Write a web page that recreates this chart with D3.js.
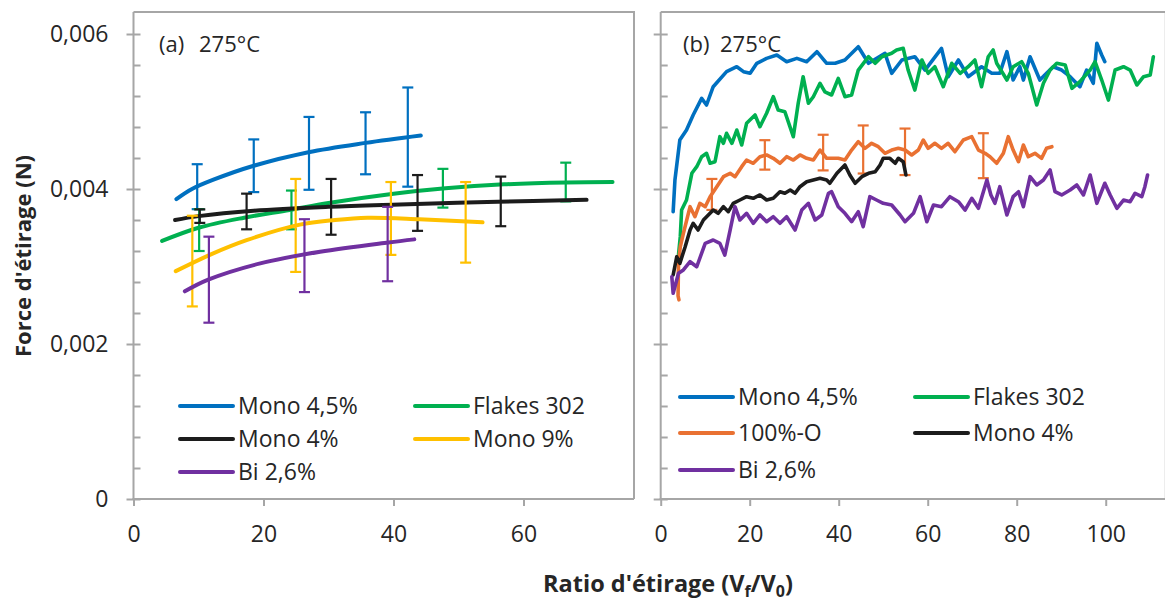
<!DOCTYPE html>
<html>
<head>
<meta charset="utf-8">
<script src="https://cdn.jsdelivr.net/npm/d3@7"></script>
<style>
  body { margin: 0; background: #ffffff; }
  text { font-family: "Open Sans", "DejaVu Sans", sans-serif; fill: #262626; }
</style>
</head>
<body>
<svg id="chart" width="1165" height="603"></svg>
<script>
// ---------------- DATA ----------------
const yTickValues = [0, 0.002, 0.004, 0.006];
const yTickLabels = ["0", "0,002", "0,004", "0,006"];
const yMinorTicks = [0, 0.0004, 0.0008, 0.0012, 0.0016, 0.002, 0.0024, 0.0028, 0.0032, 0.0036, 0.004, 0.0044, 0.0048, 0.0052, 0.0056, 0.006];
const xTicksLeft = [0, 20, 40, 60];
const xTicksRight = [0, 20, 40, 60, 80, 100];

// Panel (a): fitted curves [ratio, force]
const fitMono45 = [[6.6,0.00387],[9,0.00400],[12.3,0.00412],[18.5,0.00430],[26.9,0.004475],[35.7,0.004595],[44.2,0.00469]];
const fitFlakes = [[4.4,0.00333],[10,0.00350],[17,0.00363],[24,0.00373],[30,0.00382],[40,0.00394],[48,0.00401],[57,0.00406],[66.6,0.004085],[73.7,0.00409]];
const fitMono4 = [[6.4,0.00360],[10,0.00365],[18.5,0.00372],[30,0.00377],[41,0.00380],[56,0.003835],[69.7,0.00386]];
const fitMono9 = [[6.5,0.00294],[12,0.00316],[17.4,0.00334],[25.6,0.00354],[31,0.00360],[36,0.00363],[44,0.00361],[53.7,0.00357]];
const fitBi26 = [[7.9,0.00268],[11.5,0.00283],[19.5,0.00304],[28.7,0.00319],[39.2,0.00331],[43.2,0.00335]];

// Panel (a): error bars [ratio, mean force, error]
const errMono45 = [[9.8,0.00403,0.00029],[18.5,0.00430,0.00034],[27,0.00446,0.00047],[35.7,0.00459,0.00040],[42.2,0.00467,0.00064]];
const errFlakes = [[10.1,0.00347,0.00027],[24.3,0.00373,0.00025],[47.6,0.00401,0.00025],[66.5,0.00409,0.00025]];
const errMono4 = [[10.2,0.00365,0.000087],[17.4,0.00371,0.00023],[30.4,0.00377,0.00036],[43.7,0.00382,0.00036],[56.5,0.00384,0.00032]];
const errMono9 = [[9.05,0.00307,0.000585],[24.95,0.00353,0.00060],[39.6,0.00362,0.00047],[51.1,0.00357,0.00052]];
const errBi26 = [[11.6,0.00283,0.000555],[26.3,0.00314,0.00047],[39.1,0.00329,0.00048]];

// Panel (b): measured curves [ratio, force]
const curveMono45 = [[2.8,0.003707],[3.2,0.004116],[4.3,0.004632],[5.8,0.004761],[7.3,0.004955],[9.2,0.00517],[10.3,0.005084],[11.8,0.00532],[14.8,0.005514],[17.1,0.005578],[18.6,0.005514],[20.1,0.005493],[21.6,0.005622],[23.8,0.005686],[26.1,0.005729],[28.3,0.005643],[30.6,0.005686],[32.8,0.005643],[35.1,0.005772],[37.3,0.005622],[39.2,0.005622],[41.4,0.005665],[44.4,0.005836],[46.7,0.005622],[50.4,0.005751],[51.9,0.005493],[54.2,0.005665],[57.1,0.005707],[59.4,0.005535],[63.1,0.005815],[64.6,0.005449],[66.9,0.005665],[69.1,0.005449],[72.1,0.005578],[74.4,0.005493],[76.2,0.005493],[77.8,0.005772],[79.2,0.005406],[80.7,0.005578],[81.5,0.005406],[83,0.005707],[85.2,0.005406],[86.7,0.005493],[88.2,0.005578],[90.1,0.005535],[92,0.005449],[94.2,0.00532],[95.7,0.005535],[97.2,0.005364],[98,0.00588],[99.1,0.005729],[99.8,0.005643]];
const curveFlakes = [[4.0,0.003148],[4.4,0.003385],[4.7,0.003729],[5.8,0.003858],[7.0,0.004203],[8.1,0.004288],[9.2,0.004417],[10.3,0.004461],[11.1,0.004332],[12.2,0.004352],[13.3,0.004675],[14.1,0.00459],[14.8,0.004719],[16.0,0.00459],[17.1,0.004761],[18.2,0.004568],[19.3,0.004848],[21.2,0.004955],[22.3,0.004804],[23.8,0.004977],[25.3,0.005191],[26.4,0.005019],[27.9,0.004997],[29.8,0.004675],[30.9,0.005106],[32.0,0.005449],[33.2,0.005106],[34.3,0.005191],[35.8,0.005364],[36.9,0.005252],[38.4,0.005213],[39.9,0.005428],[41.4,0.005191],[42.9,0.005213],[44.4,0.005535],[46.7,0.005707],[48.2,0.005622],[49.7,0.005707],[51.9,0.005751],[53.0,0.005794],[54.5,0.005815],[55.6,0.005535],[57.1,0.005277],[58.7,0.005665],[60.1,0.005493],[61.6,0.005578],[63.5,0.00532],[65.4,0.005622],[67.3,0.005493],[69.1,0.005578],[70.6,0.005665],[72.1,0.00532],[73.6,0.005707],[74.7,0.005794],[75.5,0.005622],[77.8,0.005406],[79.2,0.005578],[81.1,0.005643],[82.6,0.005493],[84.5,0.005084],[86.0,0.005364],[87.5,0.005535],[89.0,0.005622],[90.9,0.0056],[92.4,0.005299],[94.2,0.005385],[96.5,0.005535],[97.6,0.005643],[99.1,0.005406],[100.6,0.005148],[102.1,0.005535],[104,0.005578],[105.5,0.005535],[107,0.005342],[108.5,0.005449],[110,0.005471],[110.7,0.005707]];
const curve100O = [[4.1,0.00257],[3.9,0.00262],[4.0,0.00305],[4.4,0.003255],[5.1,0.003428],[6.6,0.003772],[7.7,0.003643],[8.8,0.003815],[10,0.003772],[11.1,0.003901],[12.6,0.00403],[14.1,0.004159],[15.6,0.004203],[16.7,0.004159],[18.2,0.004288],[19.3,0.004374],[20.8,0.004332],[22.3,0.004417],[23.8,0.004439],[25.3,0.004396],[26.8,0.004332],[28.3,0.004417],[29.8,0.004374],[31.3,0.004439],[32.8,0.004396],[34.3,0.004374],[35.8,0.004503],[37.3,0.004396],[39.9,0.004396],[41.4,0.004374],[42.9,0.004503],[44.4,0.00461],[45.9,0.004525],[47.4,0.00459],[48.9,0.004546],[50.4,0.004461],[51.9,0.004503],[53.4,0.004525],[54.9,0.004503],[56.4,0.004439],[57.9,0.004503],[59.0,0.004632],[60.1,0.004525],[61.6,0.00459],[63.1,0.004525],[64.6,0.00459],[66.1,0.004481],[68.0,0.004632],[69.9,0.004675],[71.4,0.004503],[72.9,0.004461],[74.0,0.004417],[75.5,0.004332],[77.0,0.004461],[78.1,0.004675],[79.2,0.004503],[80.4,0.004352],[81.5,0.004568],[82.6,0.004417],[84.1,0.004461],[85.6,0.004396],[86.7,0.004525],[87.9,0.004546]];
const curveMono4 = [[2.8,0.00289],[3.6,0.003126],[4.3,0.003041],[5.5,0.003255],[6.6,0.003471],[7.3,0.003557],[8.4,0.003471],[9.6,0.0036],[10.7,0.003665],[11.8,0.003729],[12.9,0.003686],[14.1,0.003772],[15.2,0.003707],[16.3,0.003815],[17.8,0.003858],[19.3,0.003901],[20.8,0.00388],[22.3,0.003923],[23.8,0.003858],[25.3,0.00388],[26.8,0.003965],[27.9,0.003945],[29.1,0.003987],[30.2,0.003945],[31.3,0.00403],[32.8,0.004094],[34.3,0.004116],[35.8,0.004138],[37.3,0.004116],[38.0,0.004074],[39.6,0.004203],[41.4,0.00431],[42.5,0.004181],[43.7,0.004074],[45.2,0.004159],[46.7,0.004203],[48.2,0.004223],[49.3,0.00431],[50.0,0.004396],[51.5,0.004396],[52.7,0.004332],[53.4,0.004396],[54.5,0.004352],[55.1,0.004181]];
const curveBi26 = [[2.5,0.002868],[2.8,0.002654],[4.0,0.002912],[5.1,0.002955],[6.6,0.003062],[8.1,0.002997],[10.0,0.003299],[11.8,0.003342],[13.3,0.003299],[14.4,0.003148],[15.6,0.003471],[16.7,0.003772],[17.8,0.0036],[19.3,0.003686],[20.8,0.003557],[22.3,0.003665],[23.8,0.003578],[25.3,0.003643],[26.8,0.003557],[28.3,0.003643],[30.2,0.003471],[31.7,0.003729],[33.2,0.003815],[34.7,0.0036],[36.2,0.003665],[37.7,0.003945],[38.4,0.003965],[39.9,0.003772],[41.4,0.003686],[42.9,0.003578],[44.4,0.003707],[45.5,0.003514],[47.0,0.003901],[48.5,0.003858],[50.0,0.003815],[51.9,0.003794],[53.8,0.003665],[54.9,0.003578],[56.8,0.003686],[58.3,0.003901],[59.8,0.003578],[61.3,0.003794],[63.1,0.003772],[65.0,0.003901],[66.9,0.003836],[68.4,0.003729],[69.9,0.00388],[71.4,0.003751],[73.3,0.004116],[74.2,0.003923],[75.1,0.003815],[76.2,0.00403],[77.8,0.003665],[79.2,0.003901],[80.4,0.003965],[81.5,0.003772],[83.0,0.004159],[84.5,0.004052],[86.0,0.004116],[87.5,0.004245],[88.6,0.003965],[90.1,0.003923],[92.0,0.003987],[93.5,0.004052],[95.0,0.003923],[96.5,0.004181],[98.0,0.003815],[99.8,0.004074],[101,0.003923],[102.5,0.003751],[104,0.003858],[105.5,0.003836],[106.6,0.003945],[108.1,0.003901],[108.8,0.00403],[109.4,0.004181]];
const err100O = [[11.5,0.00393,0.00020],[23.4,0.00444,0.00019],[36.5,0.00447,0.00023],[45.5,0.00451,0.00031],[54.9,0.00448,0.00030],[72.5,0.00443,0.00029]];

const colors = {
  "Mono 4,5%": "#0070C0",
  "Flakes 302": "#00B050",
  "Mono 4%": "#1c1c1c",
  "Mono 9%": "#FFC000",
  "Bi 2,6%": "#7030A0",
  "100%-O": "#E97132"
};

// ---------------- CHART ----------------
const svg = d3.select("#chart");
const axisColor = "#a6a6a6";
const y = d3.scaleLinear().domain([0, 0.006284]).range([499, 12]);
const xL = d3.scaleLinear().domain([0, 77]).range([133.5, 634]);
const xR = d3.scaleLinear().domain([0, 113.5]).range([660.7, 1165.8]);

function frame(x, showLabels) {
  const [x0, x1] = x.range();
  svg.append("path")
    .attr("d", `M${x0},${y.range()[1]}H${x1}V${y.range()[0]}`)
    .attr("fill", "none").attr("stroke", axisColor).attr("stroke-width", 2);
  const ya = svg.append("g").attr("transform", `translate(${x0},0)`)
    .call(d3.axisLeft(y).tickValues(yTickValues).tickSize(7).tickPadding(18)
      .tickFormat((d, i) => showLabels ? yTickLabels[i] : ""));
  const ym = svg.append("g").attr("transform", `translate(${x0},0)`)
    .call(d3.axisRight(y).tickValues(yMinorTicks).tickSize(7).tickFormat(""));
  const xa = svg.append("g").attr("transform", `translate(0,${y(0)})`)
    .call(d3.axisBottom(x).tickValues(x === xL ? xTicksLeft : xTicksRight).tickSize(7).tickPadding(20));
  [ya, ym, xa].forEach(g => {
    g.select(".domain").remove();
    g.selectAll("line").attr("stroke", axisColor).attr("stroke-width", 2);
    g.selectAll("text").style("font-family", '"Open Sans", sans-serif').style("font-size", "23px").attr("fill", "#262626");
  });
  svg.append("line").attr("x1", x0).attr("x2", x0).attr("y1", y.range()[1]).attr("y2", y(0) + 1)
    .attr("stroke", axisColor).attr("stroke-width", 2);
  svg.append("line").attr("x1", x0 - 1).attr("x2", x1).attr("y1", y(0)).attr("y2", y(0))
    .attr("stroke", axisColor).attr("stroke-width", 2);
}
frame(xL, true);
frame(xR, false);

function drawErr(x, data, color) {
  const g = svg.append("g").attr("stroke", color).attr("stroke-width", 2.2).attr("fill", "none");
  data.forEach(([xv, m, e]) => {
    const cx = x(xv), yt = y(m + e), yb = y(m - e);
    g.append("line").attr("x1", cx).attr("x2", cx).attr("y1", yt).attr("y2", yb);
    g.append("line").attr("x1", cx - 5.5).attr("x2", cx + 5.5).attr("y1", yt).attr("y2", yt);
    g.append("line").attr("x1", cx - 5.5).attr("x2", cx + 5.5).attr("y1", yb).attr("y2", yb);
  });
}
function drawFit(x, data, color) {
  svg.append("path").datum(data)
    .attr("d", d3.line().x(d => x(d[0])).y(d => y(d[1])).curve(d3.curveCatmullRom))
    .attr("fill", "none").attr("stroke", color).attr("stroke-width", 4).attr("stroke-linecap", "round");
}
function drawRaw(x, data, color) {
  svg.append("path").datum(data)
    .attr("d", d3.line().x(d => x(d[0])).y(d => y(d[1])).curve(d3.curveLinear))
    .attr("fill", "none").attr("stroke", color).attr("stroke-width", 3.6)
    .attr("stroke-linejoin", "round").attr("stroke-linecap", "round");
}

// Panel (a)
drawErr(xL, errMono45, colors["Mono 4,5%"]); drawFit(xL, fitMono45, colors["Mono 4,5%"]);
drawErr(xL, errFlakes, colors["Flakes 302"]); drawFit(xL, fitFlakes, colors["Flakes 302"]);
drawErr(xL, errMono4, colors["Mono 4%"]); drawFit(xL, fitMono4, colors["Mono 4%"]);
drawErr(xL, errMono9, colors["Mono 9%"]); drawFit(xL, fitMono9, colors["Mono 9%"]);
drawErr(xL, errBi26, colors["Bi 2,6%"]); drawFit(xL, fitBi26, colors["Bi 2,6%"]);

// Panel (b)
drawRaw(xR, curveMono45, colors["Mono 4,5%"]);
drawRaw(xR, curveFlakes, colors["Flakes 302"]);
drawRaw(xR, curve100O, colors["100%-O"]);
drawErr(xR, err100O, colors["100%-O"]);
drawRaw(xR, curveMono4, colors["Mono 4%"]);
drawRaw(xR, curveBi26, colors["Bi 2,6%"]);

// Panel labels
svg.append("text").attr("x", 159).attr("y", 52).style("font-size", "22px").text("(a)");
svg.append("text").attr("x", 199).attr("y", 52).style("font-size", "22px").text("275°C");
svg.append("text").attr("x", 683).attr("y", 52).style("font-size", "22px").text("(b)");
svg.append("text").attr("x", 720).attr("y", 52).style("font-size", "22px").text("275°C");

// Legends
function legend(items) {
  items.forEach(([name, lx, ly]) => {
    svg.append("line").attr("x1", lx).attr("x2", lx + 53).attr("y1", ly).attr("y2", ly)
      .attr("stroke", colors[name]).attr("stroke-width", 4).attr("stroke-linecap", "round");
    svg.append("text").attr("x", lx + 58).attr("y", ly).attr("dy", "0.36em")
      .style("font-size", "23px").text(name);
  });
}
legend([["Mono 4,5%", 180, 406], ["Flakes 302", 415, 406], ["Mono 4%", 180, 439], ["Mono 9%", 415, 439], ["Bi 2,6%", 180, 472]]);
legend([["Mono 4,5%", 680, 397], ["Flakes 302", 915, 397], ["100%-O", 680, 433], ["Mono 4%", 915, 433], ["Bi 2,6%", 680, 470]]);

// Axis titles
svg.append("text").attr("transform", "translate(31,256) rotate(-90)").attr("text-anchor", "middle")
  .style("font-size", "22px").style("font-weight", "bold").text("Force d'étirage (N)");
const xt = svg.append("text").attr("x", 668).attr("y", 592).attr("text-anchor", "middle")
  .style("font-size", "23.5px").style("font-weight", "bold");
xt.append("tspan").text("Ratio d'étirage (V");
xt.append("tspan").attr("dy", 5).style("font-size", "16px").text("f");
xt.append("tspan").attr("dy", -5).text("/V");
xt.append("tspan").attr("dy", 5).style("font-size", "16px").text("0");
xt.append("tspan").attr("dy", -5).text(")");
</script>
</body>
</html>
